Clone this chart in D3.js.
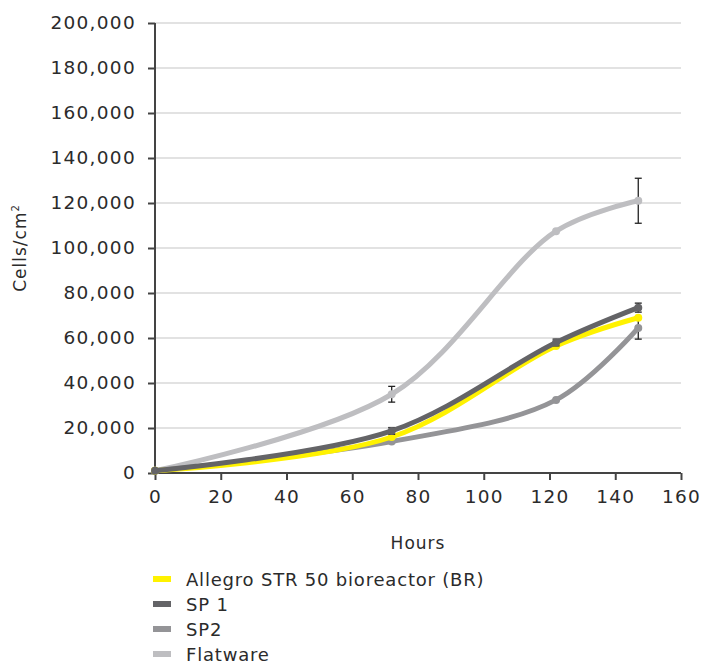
<!DOCTYPE html>
<html lang="en">
<head>
    <meta charset="UTF-8">
    <title>Cells per cm2 over time</title>
    <script src="https://d3js.org/d3.v7.min.js"></script>
    <style>
        body { margin: 0; background: #fff; }
        text { font-family: "DejaVu Sans", sans-serif; fill: #2b2b2b; }
    </style>
</head>
<body>
    <div id="chart"></div>
    <script>
        // data
        var hours = [0, 72, 122, 147];
        var seriesNames = ["Allegro STR 50 bioreactor (BR)", "SP 1", "SP2", "Flatware"];
        var seriesColors = ["#fff200", "#646467", "#949497", "#bebec1"];
        var brValues = [1000, 16000, 56500, 69000];
        var sp1Values = [1000, 18700, 58000, 73500];
        var sp2Values = [1000, 14000, 32500, 64500];
        var flatValues = [1000, 35000, 107500, 121000];
        var brErr = [0, 0, 0, 0];
        var sp1Err = [0, 1500, 1500, 2000];
        var sp2Err = [0, 0, 0, 5000];
        var flatErr = [0, 3500, 0, 10000];
        var xTicks = [0, 20, 40, 60, 80, 100, 120, 140, 160];
        var yTicks = [0, 20000, 40000, 60000, 80000, 100000, 120000, 140000, 160000, 180000, 200000];

        var allValues = [brValues, sp1Values, sp2Values, flatValues];
        var allErr = [brErr, sp1Err, sp2Err, flatErr];

        var width = 701, height = 669;
        var margin = {left: 155, right: 20, top: 23, bottom: 196};

        var svg = d3.select("#chart").append("svg")
            .attr("width", width)
            .attr("height", height);

        var x = d3.scaleLinear().domain([0, 160]).range([margin.left, width - margin.right]);
        var y = d3.scaleLinear().domain([0, 200000]).range([height - margin.bottom, margin.top]);

        // gridlines
        svg.append("g").selectAll("line")
            .data(yTicks.slice(1))
            .join("line")
            .attr("x1", x(0)).attr("x2", x(160))
            .attr("y1", d => y(d)).attr("y2", d => y(d))
            .attr("stroke", "#d9d9d9").attr("stroke-width", 1.5);

        var fmt = d3.format(",");

        var yAxis = svg.append("g")
            .attr("transform", "translate(" + x(0) + ",0)")
            .call(d3.axisLeft(y).tickValues(yTicks).tickFormat(fmt).tickSize(7).tickPadding(12));
        var xAxis = svg.append("g")
            .attr("transform", "translate(0," + y(0) + ")")
            .call(d3.axisBottom(x).tickValues(xTicks).tickSize(7).tickPadding(10));

        [xAxis, yAxis].forEach(function(a) {
            a.select(".domain").attr("stroke", "#444").attr("stroke-width", 2);
            a.selectAll(".tick line").attr("stroke", "#444").attr("stroke-width", 2);
            a.selectAll(".tick text").attr("font-size", 18.5).attr("fill", "#333")
                .attr("letter-spacing", 1.3)
                .style("font-family", "'DejaVu Sans', sans-serif");
        });
        yAxis.select(".domain").attr("d", "M0," + y(0) + "V" + y(200000));
        xAxis.select(".domain").attr("d", "M" + x(0) + ",0H" + x(160));

        // axis titles
        svg.append("text")
            .attr("x", x(80)).attr("y", 549)
            .attr("text-anchor", "middle")
            .attr("font-size", 17)
            .attr("letter-spacing", 1)
            .text("Hours");

        var ylab = svg.append("text")
            .attr("transform", "translate(26," + y(100000) + ") rotate(-90)")
            .attr("text-anchor", "middle")
            .attr("font-size", 17)
            .attr("letter-spacing", 1);
        ylab.append("tspan").text("Cells/cm");
        ylab.append("tspan").attr("font-size", 10).attr("dy", -7).text("2");

        var line = d3.line()
            .x((d, i) => x(hours[i]))
            .y(d => y(d))
            .curve(d3.curveCatmullRom.alpha(0.5));

        // SP1 sits above BR in the reference
        var order = [3, 2, 0, 1];
        order.forEach(function(s) {
            var vals = allValues[s], errs = allErr[s];
            var g = svg.append("g");
            // error bars
            vals.forEach(function(v, i) {
                if (!errs[i]) return;
                var cx = x(hours[i]);
                g.append("line").attr("x1", cx).attr("x2", cx)
                    .attr("y1", y(v - errs[i])).attr("y2", y(v + errs[i]))
                    .attr("stroke", "#222").attr("stroke-width", 1.3);
                [v - errs[i], v + errs[i]].forEach(function(e) {
                    g.append("line").attr("x1", cx - 3.5).attr("x2", cx + 3.5)
                        .attr("y1", y(e)).attr("y2", y(e))
                        .attr("stroke", "#222").attr("stroke-width", 1.3);
                });
            });
            g.append("path")
                .datum(vals)
                .attr("fill", "none")
                .attr("stroke", seriesColors[s])
                .attr("stroke-width", 5)
                .attr("stroke-linecap", "round")
                .attr("d", line);
            g.selectAll("circle")
                .data(vals)
                .join("circle")
                .attr("cx", (d, i) => x(hours[i]))
                .attr("cy", d => y(d))
                .attr("r", 4)
                .attr("fill", seriesColors[s]);
        });

        // legend
        var legend = svg.append("g").attr("transform", "translate(153,579)");
        seriesNames.forEach(function(name, i) {
            var row = legend.append("g").attr("transform", "translate(0," + i * 25 + ")");
            row.append("rect").attr("x", 0).attr("y", -3).attr("width", 18).attr("height", 6)
                .attr("fill", seriesColors[i]);
            row.append("text").attr("x", 33).attr("y", 7)
                .attr("font-size", 18).attr("letter-spacing", 0.8).text(name);
        });
    </script>
</body>
</html>
